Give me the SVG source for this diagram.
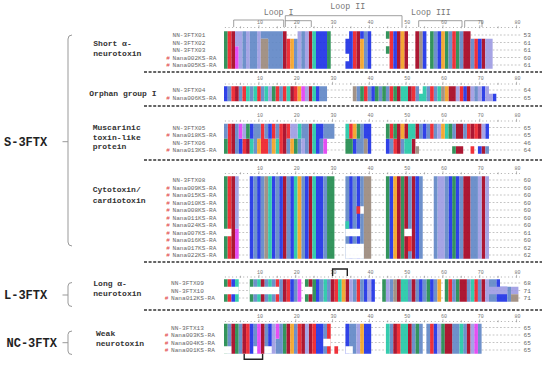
<svg xmlns="http://www.w3.org/2000/svg" width="550" height="365" viewBox="0 0 550 365">
<style>
.nm{font-family:"Liberation Mono",monospace;font-size:6.1px;fill:#666}
.hs{font-family:"Liberation Mono",monospace;font-size:6.1px;fill:#e03a3a}
.num{font-family:"Liberation Mono",monospace;font-size:6.1px;fill:#666}
.gl{font-family:"Liberation Mono",monospace;font-weight:bold;font-size:8px;fill:#333}
.big{font-family:"Liberation Mono",monospace;font-weight:bold;font-size:12px;fill:#222}
.rn{font-family:"Liberation Mono",monospace;font-size:5px;fill:#777;text-anchor:middle}
.lp{font-family:"Liberation Mono",monospace;font-size:8.3px;fill:#777}
.sep{stroke:#333;stroke-width:1.3;stroke-dasharray:3 1.6;fill:none}
.brk{stroke:#999;stroke-width:1;fill:none}
.lb{stroke:#888;stroke-width:0.8;fill:none}
.cb{stroke:#222;stroke-width:1.4;fill:none}
.gp{stroke:#888;stroke-width:0.5;stroke-dasharray:1.8 1.88;fill:none}
.G{fill:#1f8a4c}.C{fill:#a5001e}.R{fill:#ee1c25}.B{fill:#1a2ee6}.S{fill:#5f86c6}
.L{fill:#9d9be3}.M{fill:#e33cf2}.T{fill:#20c7a6}.O{fill:#f3a020}.P{fill:#9a887b}.W{fill:#fff}
#alignment{opacity:0.9}
</style>
<defs>
<path id="rdots" d="M224.9 0H520" stroke="#888" stroke-width="0.8" stroke-dasharray="0.9 2.78"/>
<path id="rtick" d="M258.96 -2.2v3M295.76 -2.2v3M332.56 -2.2v3M369.36 -2.2v3M406.16 -2.2v3M442.96 -2.2v3M479.76 -2.2v3M516.56 -2.2v3M240.56 -1.2v2M277.36 -1.2v2M314.16 -1.2v2M350.96 -1.2v2M387.76 -1.2v2M424.56 -1.2v2M461.36 -1.2v2M498.16 -1.2v2" stroke="#888" stroke-width="0.6"/>
</defs>
<rect width="550" height="365" fill="#fff"/>

<g id="family-labels">
<text class="big" x="4" y="145.8">S-3FTX</text>
<text class="big" x="4" y="299">L-3FTX</text>
<text class="big" x="6.5" y="346.8">NC-3FTX</text>
<path class="brk" d="M72 35Q68 35 68 39V242Q68 246 72 246M62.5 141.7H68"/>
<path class="brk" d="M72 282.5Q68 282.5 68 286V303Q68 306.5 72 306.5M62.5 295H68"/>
<path class="brk" d="M72 331Q68 331 68 334.5V351Q68 354.5 72 354.5M62.5 342.7H68"/>
</g>

<g id="group-labels">
<text class="gl" x="93.3" y="46">Short α-</text>
<text class="gl" x="93.3" y="56">neurotoxin</text>
<text class="gl" x="89.3" y="96">Orphan group I</text>
<text class="gl" x="92.7" y="130">Muscarinic</text>
<text class="gl" x="92.7" y="139.5">toxin-like</text>
<text class="gl" x="92.7" y="149">protein</text>
<text class="gl" x="92.7" y="191.8">Cytotoxin/</text>
<text class="gl" x="92.7" y="202.8">cardiotoxin</text>
<text class="gl" x="93.3" y="286">Long α-</text>
<text class="gl" x="93.3" y="296">neurotoxin</text>
<text class="gl" x="96" y="336">Weak</text>
<text class="gl" x="96" y="346">neurotoxin</text>
</g>

<g id="separators">
<path class="sep" d="M144 72H542M144 106H542M144 160H542M144 262H542M144 310H542"/>
</g>

<g id="loops">
<path class="lb" d="M233.7 27V20H283.7V27M285.3 27V15.7H402V27M285.3 20.7H311.3V27M418.7 27V20.7H462V27M464.7 27V20.7H482V27"/>
<text class="lp" x="263.7" y="14.5">Loop I</text>
<text class="lp" x="330.3" y="8.8">Loop II</text>
<text class="lp" x="411" y="15">Loop III</text>
</g>

<g id="rulers">
<use href="#rdots" y="27.5"/><use href="#rtick" y="27.5"/>
<use href="#rdots" y="84"/><use href="#rtick" y="84"/>
<use href="#rdots" y="121"/><use href="#rtick" y="121"/>
<use href="#rdots" y="173.5"/><use href="#rtick" y="173.5"/>
<use href="#rdots" y="277"/><use href="#rtick" y="277"/>
<use href="#rdots" y="321.5"/><use href="#rtick" y="321.5"/>
<text class="rn" x="260" y="23.5">10</text><text class="rn" x="296.8" y="23.5">20</text><text class="rn" x="333.6" y="23.5">30</text><text class="rn" x="370.4" y="23.5">40</text><text class="rn" x="407.2" y="23.5">50</text><text class="rn" x="444" y="23.5">60</text><text class="rn" x="480.8" y="23.5">70</text><text class="rn" x="517.6" y="23.5">80</text>
<text class="rn" x="260" y="80">10</text><text class="rn" x="296.8" y="80">20</text><text class="rn" x="333.6" y="80">30</text><text class="rn" x="370.4" y="80">40</text><text class="rn" x="407.2" y="80">50</text><text class="rn" x="444" y="80">60</text><text class="rn" x="480.8" y="80">70</text><text class="rn" x="517.6" y="80">80</text>
<text class="rn" x="260" y="117">10</text><text class="rn" x="296.8" y="117">20</text><text class="rn" x="333.6" y="117">30</text><text class="rn" x="370.4" y="117">40</text><text class="rn" x="407.2" y="117">50</text><text class="rn" x="444" y="117">60</text><text class="rn" x="480.8" y="117">70</text><text class="rn" x="517.6" y="117">80</text>
<text class="rn" x="260" y="170">10</text><text class="rn" x="296.8" y="170">20</text><text class="rn" x="333.6" y="170">30</text><text class="rn" x="370.4" y="170">40</text><text class="rn" x="407.2" y="170">50</text><text class="rn" x="444" y="170">60</text><text class="rn" x="480.8" y="170">70</text><text class="rn" x="517.6" y="170">80</text>
<text class="rn" x="260" y="273.5">10</text><text class="rn" x="296.8" y="273.5">20</text><text class="rn" x="333.6" y="273.5">30</text><text class="rn" x="370.4" y="273.5">40</text><text class="rn" x="407.2" y="273.5">50</text><text class="rn" x="444" y="273.5">60</text><text class="rn" x="480.8" y="273.5">70</text><text class="rn" x="517.6" y="273.5">80</text>
<text class="rn" x="260" y="318">10</text><text class="rn" x="296.8" y="318">20</text><text class="rn" x="333.6" y="318">30</text><text class="rn" x="370.4" y="318">40</text><text class="rn" x="407.2" y="318">50</text><text class="rn" x="444" y="318">60</text><text class="rn" x="480.8" y="318">70</text><text class="rn" x="517.6" y="318">80</text>
</g>

<g id="gaps">
<path class="gp" d="M224 35H521M224 42.5H521M224 50H521M224 57.5H521M224 65H521M224 90H521M224 97.5H521M224 127.5H521M224 135H521M224 142.5H521M224 150H521M224 180H521M224 187.5H521M224 195H521M224 202.5H521M224 210H521M224 217.5H521M224 225H521M224 232.5H521M224 240H521M224 247.5H521M224 255H521M224 283H521M224 290.5H521M224 298H521M224 327.5H521M224 335H521M224 342.5H521M224 350H521"/>
</g>

<g id="alignment" transform="translate(220.32 0) scale(3.68 1)">
<g id="aln-short">
<path class="G" d="M1 31.25h1v37.5h-1zM29 31.25h1v37.5h-1zM57 31.25h1v37.5h-1zM61 31.25h1v37.5h-1zM64 31.25h1v37.5h-1zM45 31.25h1v7.5h-1zM45 46.25h1v7.5h-1z"/>
<path class="R" d="M2 31.25h1v37.5h-1zM36 31.25h1v37.5h-1zM46 31.25h1v37.5h-1zM63 31.25h1v37.5h-1zM18 38.75h1v30h-1zM69 38.75h1v30h-1z"/>
<path class="C" d="M3 31.25h1v37.5h-1zM17 31.25h1v37.5h-1zM24 31.25h1v37.5h-1zM37 31.25h1v37.5h-1zM48 31.25h1v37.5h-1zM50 31.25h1v37.5h-1zM53 31.25h1v37.5h-1zM66 31.25h2v37.5h-2zM71 38.75h1v30h-1z"/>
<path class="M" d="M4 46.25h1v22.5h-1z"/>
<path class="L" d="M4 31.25h1v15h-1zM5 31.25h1v37.5h-1zM7 31.25h1v37.5h-1zM10 31.25h1v37.5h-1zM21 31.25h1v37.5h-1zM23 31.25h1v37.5h-1zM72 38.75h2v30h-2z"/>
<path class="S" d="M6 31.25h1v37.5h-1zM8 31.25h2v37.5h-2zM13 31.25h4v37.5h-4zM22 31.25h1v37.5h-1zM39 31.25h1v37.5h-1zM58 31.25h1v37.5h-1zM62 31.25h1v37.5h-1zM65 31.25h1v37.5h-1zM11 31.25h2v7.5h-2zM20 38.75h1v30h-1zM68 38.75h1v30h-1z"/>
<path class="P" d="M11 38.75h2v30h-2zM54 31.25h1v37.5h-1z"/>
<path class="O" d="M19 38.75h1v30h-1zM38 38.75h1v30h-1zM49 31.25h1v37.5h-1zM60 31.25h1v37.5h-1z"/>
<path class="B" d="M26 31.25h3v37.5h-3zM35 31.25h1v37.5h-1zM40 31.25h1v37.5h-1zM47 31.25h1v37.5h-1zM55 31.25h1v37.5h-1zM59 31.25h1v37.5h-1zM34 38.75h1v15h-1zM34 61.25h1v7.5h-1zM38 31.25h1v7.5h-1zM70 38.75h1v30h-1z"/>
<path class="T" d="M25 31.25h1v37.5h-1z"/>
</g>
<g id="aln-orphan">
<path class="B" d="M1 86.25h1v15h-1zM26 86.25h1v15h-1zM41 86.25h1v15h-1zM66 86.25h1v15h-1zM71 86.25h1v15h-1zM74 93.75h1v7.5h-1z"/>
<path class="S" d="M2 86.25h1v15h-1zM5 86.25h1v15h-1zM8 86.25h1v15h-1zM11 86.25h1v15h-1zM16 86.25h1v15h-1zM27 86.25h2v15h-2zM37 86.25h1v15h-1zM40 86.25h1v15h-1zM43 86.25h1v15h-1zM45 86.25h1v15h-1zM53 86.25h1v15h-1zM56 86.25h1v15h-1zM58 86.25h1v15h-1zM69 86.25h1v15h-1z"/>
<path class="R" d="M3 86.25h1v15h-1zM6 86.25h1v15h-1zM10 86.25h1v15h-1zM15 86.25h1v15h-1zM17 86.25h1v15h-1zM20 86.25h1v15h-1zM39 86.25h1v15h-1zM46 86.25h1v15h-1zM52 86.25h1v15h-1zM57 86.25h1v15h-1zM65 86.25h1v15h-1z"/>
<path class="C" d="M4 86.25h1v15h-1zM19 86.25h1v15h-1zM24 86.25h1v15h-1zM48 86.25h1v15h-1zM51 86.25h1v15h-1zM62 86.25h2v15h-2zM67 86.25h1v15h-1z"/>
<path class="T" d="M7 86.25h1v15h-1zM9 86.25h1v15h-1zM12 86.25h1v15h-1zM18 86.25h1v15h-1zM25 86.25h1v15h-1zM49 86.25h2v15h-2zM55 86.25h1v15h-1zM59 86.25h1v15h-1zM54 93.75h1v7.5h-1z"/>
<path class="L" d="M13 86.25h1v15h-1zM23 86.25h1v15h-1zM64 86.25h1v15h-1zM68 86.25h1v15h-1zM70 86.25h1v15h-1zM72 86.25h1v15h-1zM73 93.75h1v7.5h-1z"/>
<path class="G" d="M14 86.25h1v15h-1zM38 86.25h1v15h-1zM42 86.25h1v15h-1zM44 86.25h1v15h-1zM47 86.25h1v15h-1z"/>
<path class="O" d="M21 86.25h1v15h-1zM61 86.25h1v15h-1z"/>
<path class="M" d="M22 86.25h1v15h-1z"/>
<path class="P" d="M36 86.25h1v15h-1zM60 86.25h1v15h-1z"/>
</g>
<g id="aln-muscarinic">
<path class="R" d="M2 123.75h1v30h-1zM16 123.75h1v30h-1zM11 123.75h1v15h-1zM14 123.75h1v15h-1zM18 123.75h1v15h-1zM35 123.75h1v15h-1zM46 123.75h1v15h-1zM57 123.75h1v15h-1zM67 123.75h1v15h-1zM69 123.75h1v15h-1zM6 138.75h1v15h-1zM11 138.75h2v15h-2zM47 138.75h1v15h-1zM68 146.25h1v7.5h-1z"/>
<path class="C" d="M3 123.75h1v30h-1zM17 123.75h1v30h-1zM24 123.75h1v30h-1zM48 123.75h1v30h-1zM50 123.75h1v15h-1zM53 123.75h1v15h-1zM64 123.75h2v15h-2zM68 123.75h1v15h-1zM70 123.75h1v15h-1zM7 138.75h1v15h-1zM52 138.75h1v15h-1zM64 146.25h2v7.5h-2zM71 146.25h1v7.5h-1z"/>
<path class="S" d="M4 123.75h1v30h-1zM9 123.75h1v30h-1zM23 123.75h1v30h-1zM1 123.75h1v15h-1zM10 123.75h1v15h-1zM12 123.75h1v15h-1zM15 123.75h1v15h-1zM22 123.75h1v15h-1zM28 123.75h3v15h-3zM38 123.75h1v15h-1zM54 123.75h1v15h-1zM56 123.75h1v15h-1zM58 123.75h1v15h-1zM63 123.75h1v15h-1zM66 123.75h1v15h-1zM13 138.75h1v15h-1zM18 138.75h1v15h-1zM21 138.75h1v15h-1zM27 138.75h1v15h-1zM37 138.75h2v15h-2zM46 138.75h1v15h-1zM49 138.75h1v15h-1zM72 146.25h1v7.5h-1z"/>
<path class="T" d="M25 123.75h1v30h-1zM21 123.75h1v15h-1zM34 123.75h1v15h-1zM51 123.75h2v15h-2zM61 123.75h1v15h-1zM8 138.75h1v15h-1zM15 138.75h1v15h-1zM50 138.75h2v15h-2z"/>
<path class="B" d="M26 123.75h1v30h-1zM40 123.75h1v30h-1zM8 123.75h1v15h-1zM13 123.75h1v15h-1zM27 123.75h1v15h-1zM39 123.75h1v15h-1zM55 123.75h1v15h-1zM72 123.75h1v15h-1zM5 138.75h1v15h-1zM36 138.75h1v15h-1zM45 138.75h1v15h-1zM70 146.25h1v7.5h-1z"/>
<path class="M" d="M5 123.75h1v15h-1zM28 138.75h1v15h-1z"/>
<path class="L" d="M6 123.75h1v15h-1zM19 123.75h2v15h-2zM59 123.75h1v15h-1zM71 123.75h1v15h-1zM22 138.75h1v15h-1z"/>
<path class="G" d="M7 123.75h1v15h-1zM37 123.75h1v15h-1zM45 123.75h1v15h-1zM47 123.75h1v15h-1zM62 123.75h1v15h-1zM1 138.75h1v15h-1zM20 138.75h1v15h-1zM34 138.75h2v15h-2zM63 146.25h1v7.5h-1z"/>
<path class="O" d="M36 123.75h1v15h-1zM49 123.75h1v15h-1zM60 123.75h1v15h-1zM10 138.75h1v15h-1zM14 138.75h1v15h-1zM19 138.75h1v15h-1z"/>
<path class="P" d="M39 138.75h1v15h-1zM53 146.25h1v7.5h-1z"/>
</g>
<g id="aln-cytotoxin">
<path class="G" d="M1 176.25h1v82.5h-1zM29 176.25h2v82.5h-2zM45 176.25h1v82.5h-1zM49 176.25h1v82.5h-1zM63 176.25h1v82.5h-1z"/>
<path class="R" d="M2 176.25h1v82.5h-1z"/>
<path class="C" d="M3 176.25h1v82.5h-1zM17 176.25h1v82.5h-1zM24 176.25h1v82.5h-1zM48 176.25h1v82.5h-1zM50 176.25h1v82.5h-1zM52 176.25h1v82.5h-1zM66 176.25h2v82.5h-2zM71 176.25h1v82.5h-1z"/>
<path class="L" d="M4 176.25h1v52.5h-1zM59 176.25h2v82.5h-2zM70 176.25h1v82.5h-1zM72 176.25h1v82.5h-1z"/>
<path class="M" d="M4 228.75h1v30h-1z"/>
<path class="B" d="M8 176.25h1v82.5h-1zM10 176.25h1v82.5h-1zM14 176.25h1v82.5h-1zM16 176.25h1v82.5h-1zM19 176.25h1v82.5h-1zM23 176.25h1v82.5h-1zM26 176.25h2v82.5h-2zM35 176.25h1v82.5h-1zM37 176.25h1v82.5h-1zM46 176.25h1v82.5h-1zM53 176.25h1v82.5h-1zM62 176.25h1v82.5h-1zM64 176.25h1v82.5h-1z"/>
<path class="S" d="M9 176.25h1v82.5h-1zM11 176.25h1v82.5h-1zM15 176.25h1v82.5h-1zM18 176.25h1v82.5h-1zM22 176.25h1v82.5h-1zM28 176.25h1v82.5h-1zM34 176.25h1v82.5h-1zM36 176.25h1v82.5h-1zM38 176.25h1v82.5h-1zM51 176.25h1v82.5h-1zM54 176.25h1v82.5h-1zM58 176.25h1v82.5h-1zM61 176.25h1v82.5h-1zM65 176.25h1v82.5h-1zM68 176.25h2v82.5h-2z"/>
<path class="P" d="M12 176.25h1v82.5h-1zM39 176.25h2v82.5h-2z"/>
<path class="T" d="M13 176.25h1v82.5h-1zM20 176.25h1v82.5h-1zM25 176.25h1v82.5h-1z"/>
<path class="O" d="M21 176.25h1v82.5h-1zM47 176.25h1v82.5h-1z"/>
<path class="W" d="M1 228.75h2v7.5h-2zM34 228.75h4v7.5h-4zM50 228.75h2v7.5h-2zM34 243.75h5v15h-5zM38 206.25h1v7.5h-1z"/>
<path class="R" d="M37 206.25h1v7.5h-1zM51 236.25h1v15h-1z"/>
<path class="T" d="M34 221.25h1v7.5h-1z"/>
</g>
<g id="aln-long">
<path class="G" d="M1 279.25h1v22.5h-1zM8 279.25h1v22.5h-1zM23 279.25h1v22.5h-1zM25 279.25h1v22.5h-1zM44 279.25h1v22.5h-1zM56 279.25h1v22.5h-1zM61 279.25h1v22.5h-1zM64 279.25h1v22.5h-1z"/>
<path class="R" d="M2 279.25h1v22.5h-1zM15 279.25h1v22.5h-1zM18 279.25h1v22.5h-1zM31 279.25h1v22.5h-1zM37 279.25h1v22.5h-1zM62 279.25h1v22.5h-1zM69 279.25h1v22.5h-1z"/>
<path class="B" d="M3 279.25h1v22.5h-1zM19 279.25h1v22.5h-1zM26 279.25h1v22.5h-1zM39 279.25h1v22.5h-1zM41 279.25h1v22.5h-1zM54 279.25h1v22.5h-1zM57 279.25h1v22.5h-1zM75 279.25h1v22.5h-1zM76 286.75h2v15h-2z"/>
<path class="T" d="M4 279.25h1v22.5h-1zM10 279.25h1v22.5h-1zM13 279.25h1v22.5h-1zM28 279.25h1v22.5h-1zM32 279.25h1v22.5h-1zM49 279.25h2v22.5h-2zM68 279.25h1v22.5h-1z"/>
<path class="S" d="M9 279.25h1v22.5h-1zM12 279.25h1v22.5h-1zM14 279.25h1v22.5h-1zM16 279.25h1v22.5h-1zM20 279.25h1v22.5h-1zM27 279.25h1v22.5h-1zM29 279.25h1v22.5h-1zM36 279.25h1v22.5h-1zM38 279.25h1v22.5h-1zM46 279.25h1v22.5h-1zM51 279.25h1v22.5h-1zM53 279.25h1v22.5h-1zM55 279.25h1v22.5h-1zM58 279.25h1v22.5h-1zM63 279.25h1v22.5h-1zM67 279.25h1v22.5h-1zM70 279.25h1v22.5h-1zM73 279.25h2v22.5h-2zM78 286.75h1v15h-1z"/>
<path class="C" d="M11 279.25h1v22.5h-1zM17 279.25h1v22.5h-1zM24 279.25h1v22.5h-1zM30 279.25h1v22.5h-1zM34 279.25h1v22.5h-1zM48 279.25h1v22.5h-1zM52 279.25h1v22.5h-1zM65 279.25h2v22.5h-2zM71 279.25h1v22.5h-1z"/>
<path class="M" d="M21 279.25h1v22.5h-1z"/>
<path class="O" d="M33 279.25h1v22.5h-1zM59 279.25h1v22.5h-1z"/>
<path class="L" d="M35 279.25h1v22.5h-1zM40 279.25h1v22.5h-1zM45 279.25h1v22.5h-1zM72 279.25h1v22.5h-1zM79 286.75h2v7.5h-2z"/>
<path class="P" d="M47 279.25h1v22.5h-1zM79 294.25h2v7.5h-2z"/>
<path class="W" d="M1 286.75h4v7.5h-4zM8 286.75h8v7.5h-8zM23 286.75h2v7.5h-2z"/>
<path class="L" d="M73 286.75h5v7.5h-5z"/>
</g>
<g id="aln-weak">
<path class="G" d="M1 323.75h1v30h-1zM4 323.75h1v30h-1zM17 323.75h1v30h-1zM53 323.75h1v30h-1zM60 323.75h1v30h-1z"/>
<path class="S" d="M2 323.75h1v30h-1zM5 323.75h1v30h-1zM9 323.75h1v30h-1zM12 323.75h1v30h-1zM16 323.75h1v30h-1zM20 323.75h1v30h-1zM28 323.75h1v30h-1zM35 323.75h2v30h-2zM46 323.75h1v30h-1zM52 323.75h1v30h-1zM54 323.75h1v30h-1zM56 323.75h1v30h-1zM63 323.75h2v30h-2zM66 323.75h1v30h-1zM70 323.75h1v30h-1zM15 338.75h1v15h-1z"/>
<path class="C" d="M3 323.75h1v30h-1zM6 323.75h1v30h-1zM11 323.75h1v30h-1zM18 323.75h1v30h-1zM22 323.75h1v30h-1zM24 323.75h1v30h-1zM47 323.75h1v30h-1zM51 323.75h1v30h-1zM61 323.75h2v30h-2zM67 323.75h1v30h-1z"/>
<path class="R" d="M7 323.75h1v30h-1zM21 323.75h1v30h-1zM25 323.75h1v30h-1zM29 323.75h1v30h-1zM48 323.75h1v30h-1zM57 323.75h1v30h-1z"/>
<path class="B" d="M8 323.75h1v30h-1zM13 323.75h1v30h-1zM26 323.75h2v30h-2zM34 323.75h1v30h-1zM39 323.75h2v30h-2zM58 323.75h1v30h-1z"/>
<path class="M" d="M10 323.75h1v30h-1zM69 323.75h1v30h-1zM15 323.75h1v15h-1z"/>
<path class="L" d="M14 323.75h1v30h-1zM23 323.75h1v30h-1zM37 323.75h1v30h-1zM59 323.75h1v30h-1zM68 323.75h1v30h-1z"/>
<path class="O" d="M19 323.75h1v30h-1zM38 323.75h1v30h-1z"/>
<path class="T" d="M45 323.75h1v30h-1zM49 323.75h2v30h-2zM65 323.75h1v30h-1z"/>
<path class="W" d="M1 346.25h2v7.5h-2zM9 346.25h1v7.5h-1zM12 346.25h2v7.5h-2zM34 346.25h2v7.5h-2zM28 338.75h2v7.5h-2z"/>
<path class="R" d="M31 346.25h1v7.5h-1z"/>
</g>
</g>

<g id="disulfide-brackets">
<path class="cb" d="M332.6 276V269H347.3V276"/>
<path class="cb" d="M244.2 354V359.3H262.6V354"/>
</g>

<g id="names-short">
<text class="nm" x="172.5" y="37.2">NN-3FTX01</text>
<text class="nm" x="172.5" y="44.7">NN-3FTX02</text>
<text class="nm" x="172.5" y="52.2">NN-3FTX03</text>
<text class="hs" x="166.3" y="59.7">#</text><text class="nm" x="172.5" y="59.7">Nana002KS-RA</text>
<text class="hs" x="166.3" y="67.2">#</text><text class="nm" x="172.5" y="67.2">Nana005KS-RA</text>
<text class="num" x="523.5" y="37.2">53</text><text class="num" x="523.5" y="44.7">61</text><text class="num" x="523.5" y="52.2">61</text><text class="num" x="523.5" y="59.7">60</text><text class="num" x="523.5" y="67.2">61</text>
</g>
<g id="names-orphan">
<text class="nm" x="172.5" y="92.2">NN-3FTX04</text>
<text class="hs" x="166.3" y="99.7">#</text><text class="nm" x="172.5" y="99.7">Nana006KS-RA</text>
<text class="num" x="523.5" y="92.2">64</text><text class="num" x="523.5" y="99.7">65</text>
</g>
<g id="names-muscarinic">
<text class="nm" x="172.5" y="129.7">NN-3FTX05</text>
<text class="hs" x="166.3" y="137.2">#</text><text class="nm" x="172.5" y="137.2">Nana018KS-RA</text>
<text class="nm" x="172.5" y="144.7">NN-3FTX06</text>
<text class="hs" x="166.3" y="152.2">#</text><text class="nm" x="172.5" y="152.2">Nana013KS-RA</text>
<text class="num" x="523.5" y="129.7">65</text><text class="num" x="523.5" y="137.2">65</text><text class="num" x="523.5" y="144.7">46</text><text class="num" x="523.5" y="152.2">64</text>
</g>
<g id="names-cytotoxin">
<text class="nm" x="172.5" y="182.2">NN-3FTX08</text>
<text class="hs" x="166.3" y="189.7">#</text><text class="nm" x="172.5" y="189.7">Nana009KS-RA</text>
<text class="hs" x="166.3" y="197.2">#</text><text class="nm" x="172.5" y="197.2">Nana015KS-RA</text>
<text class="hs" x="166.3" y="204.7">#</text><text class="nm" x="172.5" y="204.7">Nana010KS-RA</text>
<text class="hs" x="166.3" y="212.2">#</text><text class="nm" x="172.5" y="212.2">Nana008KS-RA</text>
<text class="hs" x="166.3" y="219.7">#</text><text class="nm" x="172.5" y="219.7">Nana011KS-RA</text>
<text class="hs" x="166.3" y="227.2">#</text><text class="nm" x="172.5" y="227.2">Nana024KS-RA</text>
<text class="hs" x="166.3" y="234.7">#</text><text class="nm" x="172.5" y="234.7">Nana007KS-RA</text>
<text class="hs" x="166.3" y="242.2">#</text><text class="nm" x="172.5" y="242.2">Nana016KS-RA</text>
<text class="hs" x="166.3" y="249.7">#</text><text class="nm" x="172.5" y="249.7">Nana017KS-RA</text>
<text class="hs" x="166.3" y="257.2">#</text><text class="nm" x="172.5" y="257.2">Nana022KS-RA</text>
<text class="num" x="523.5" y="182.2">60</text><text class="num" x="523.5" y="189.7">60</text><text class="num" x="523.5" y="197.2">60</text><text class="num" x="523.5" y="204.7">60</text><text class="num" x="523.5" y="212.2">60</text><text class="num" x="523.5" y="219.7">60</text><text class="num" x="523.5" y="227.2">60</text><text class="num" x="523.5" y="234.7">61</text><text class="num" x="523.5" y="242.2">60</text><text class="num" x="523.5" y="249.7">62</text><text class="num" x="523.5" y="257.2">62</text>
</g>
<g id="names-long">
<text class="nm" x="171" y="285.2">NN-3FTX09</text>
<text class="nm" x="171" y="292.7">NN-3FTX10</text>
<text class="hs" x="164.8" y="300.2">#</text><text class="nm" x="171" y="300.2">Nana012KS-RA</text>
<text class="num" x="523.5" y="285.2">68</text><text class="num" x="523.5" y="292.7">71</text><text class="num" x="523.5" y="300.2">71</text>
</g>
<g id="names-weak">
<text class="nm" x="171" y="329.7">NN-3FTX13</text>
<text class="hs" x="164.8" y="337.2">#</text><text class="nm" x="171" y="337.2">Nana003KS-RA</text>
<text class="hs" x="164.8" y="344.7">#</text><text class="nm" x="171" y="344.7">Nana004KS-RA</text>
<text class="hs" x="164.8" y="352.2">#</text><text class="nm" x="171" y="352.2">Nana001KS-RA</text>
<text class="num" x="523.5" y="329.7">65</text><text class="num" x="523.5" y="337.2">65</text><text class="num" x="523.5" y="344.7">65</text><text class="num" x="523.5" y="352.2">65</text>
</g>
</svg>
